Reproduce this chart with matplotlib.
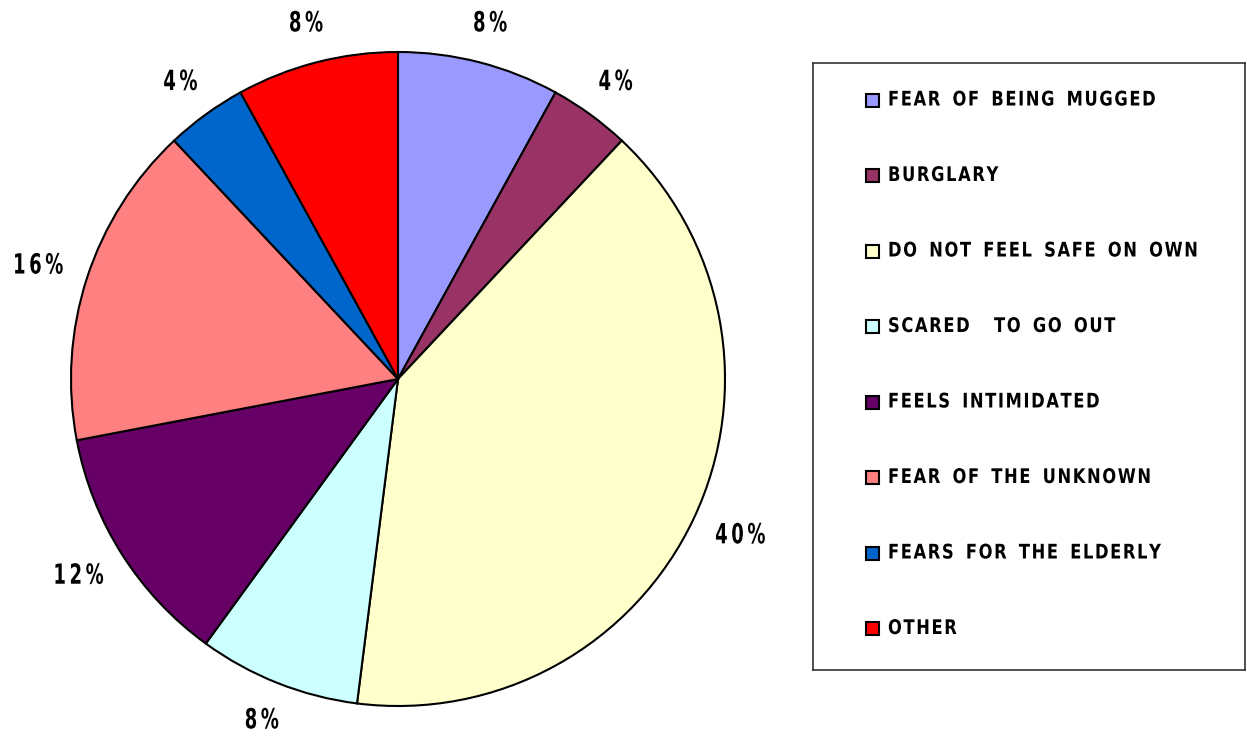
import matplotlib
matplotlib.use('Agg')
import matplotlib.pyplot as plt
import numpy as np
from matplotlib.patches import Rectangle
from matplotlib.patheffects import AbstractPathEffect
from matplotlib.transforms import Affine2D, Bbox

labels = ['FEAR OF BEING MUGGED', 'BURGLARY', 'DO NOT FEEL SAFE ON OWN',
          'SCARED  TO GO OUT', 'FEELS INTIMIDATED', 'FEAR OF THE UNKNOWN',
          'FEARS FOR THE ELDERLY', 'OTHER']
values = [8, 4, 40, 8, 12, 16, 4, 8]
colors = ['#9999FF', '#993366', '#FFFFCC', '#CCFFFF', '#660066', '#FF8080',
          '#0066CC', '#FF0000']

font = dict(family='DejaVu Sans', stretch='condensed', weight='bold')


class Squeeze(AbstractPathEffect):
    # narrow the glyphs horizontally around x0 (display px), like Arial Narrow
    def __init__(self, sx, x0):
        super().__init__()
        self.sx = sx
        self.x0 = x0

    def draw_path(self, renderer, gc, tpath, affine, rgbFace=None):
        a = affine + Affine2D().translate(-self.x0, 0).scale(self.sx, 1).translate(self.x0, 0)
        renderer.draw_path(gc, tpath, a, rgbFace)


def narrow(t, sx, x0):
    t.set_path_effects([Squeeze(sx, x0)])
    orig = t.get_window_extent

    def ext(renderer=None, dpi=None):
        bb = orig(renderer, dpi)
        return Bbox.from_extents(x0 + (bb.x0 - x0) * sx, bb.y0,
                                 x0 + (bb.x1 - x0) * sx, bb.y1)
    t.get_window_extent = ext


def spaced(s, gap='\u2009', wgap=' '):
    # wide letter spacing like the original
    return wgap.join(gap.join(w) for w in s.split(' '))


fig = plt.figure(figsize=(12.47, 7.42), dpi=100)

# pie
ax = fig.add_axes([71/1247, 36/742, 654/1247, 654/742])
wedges, texts = ax.pie(values, colors=colors, startangle=90, counterclock=False,
                       labels=[spaced('%d%%' % v) for v in values],
                       labeldistance=1.08,
                       wedgeprops=dict(edgecolor='black', linewidth=1.5))
ax.set_xlim(-1, 1)
ax.set_ylim(-1, 1)
ax.set_aspect('equal')

sx_pie = 0.72
renderer = fig.canvas.get_renderer()
R = ax.transData.transform((1, 0))[0] - ax.transData.transform((0, 0))[0]
for t, w in zip(texts, wedges):
    t.set_fontsize(20)
    t.set(**font)
    t.set_ha('center')
    t.set_va('center')
    bb = t.get_window_extent(renderer)
    th = np.deg2rad((w.theta1 + w.theta2) / 2)
    # push the label out so its nearest edge sits just outside the rim
    x = np.cos(th) * (1.08 + bb.width * sx_pie / 2 / R)
    y = np.sin(th) * (1.08 + bb.height / 2 / R)
    t.set_position((x, y))
    narrow(t, sx_pie, ax.transData.transform((x, y))[0])

# legend box
lax = fig.add_axes([813/1247, (742-670)/742, 432/1247, 607/742])
lax.set_xlim(0, 432)
lax.set_ylim(607, 0)
lax.set_xticks([])
lax.set_yticks([])
for s in lax.spines.values():
    s.set_linewidth(1.2)
    s.set_color('#333333')

for i, (lab, c) in enumerate(zip(labels, colors)):
    y = 37 + i * 75.5
    lax.add_patch(Rectangle((53, y - 6.5), 13, 13, facecolor=c,
                            edgecolor='black', linewidth=1.5))
    t = lax.text(75, y, spaced(lab, '\u200a', '\u2009 \u2009'), fontsize=14.5,
                 va='center', ha='left', **font)
    narrow(t, 0.9, 813 + 75)

fig.savefig('out.png', dpi=100)
